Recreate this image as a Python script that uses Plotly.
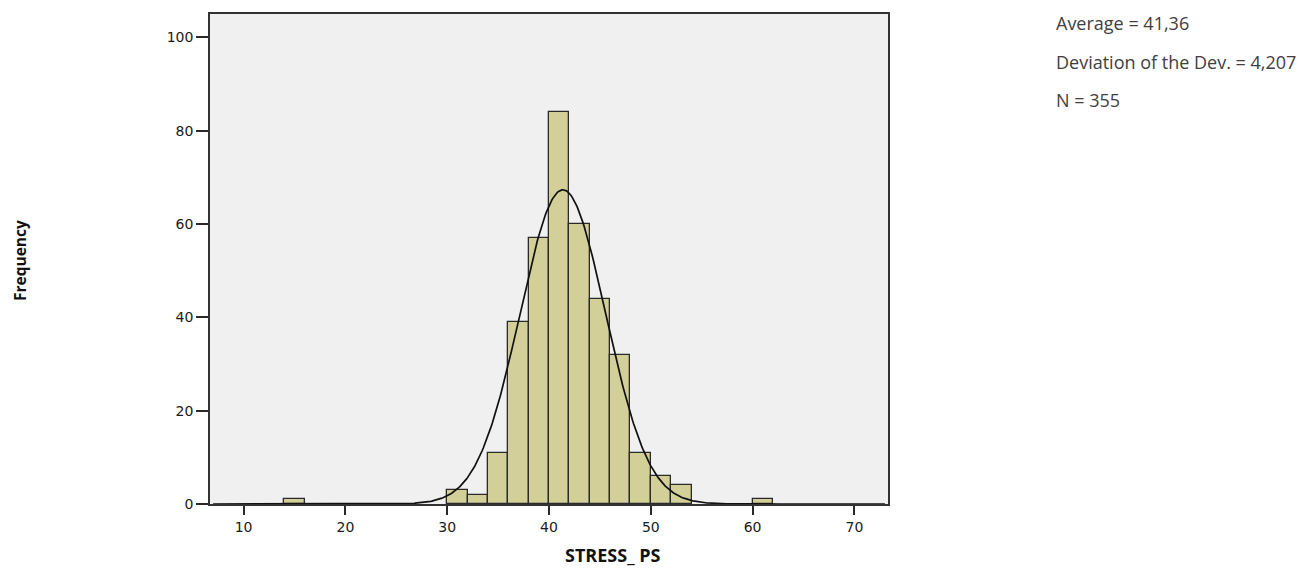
import numpy as np
import plotly.graph_objects as go

# Histogram data (bin width 2)
bin_left = [14, 30, 32, 34, 36, 38, 40, 42, 44, 46, 48, 50, 52, 60]
counts = [1, 3, 2, 11, 39, 57, 84, 60, 44, 32, 11, 6, 4, 1]
bin_width = 2
mean_val = 41.36
sd_val = 4.207
n_val = 355
x_ticks = [10, 20, 30, 40, 50, 60, 70]
y_ticks = [0, 20, 40, 60, 80, 100]
stats_lines = ["Average = 41,36", "Deviation of the Dev. = 4,207", "N = 355"]

centers = [b + bin_width / 2 for b in bin_left]

xs = np.linspace(7, 73, 600)
ys = n_val * bin_width * np.exp(-0.5 * ((xs - mean_val) / sd_val) ** 2) / (sd_val * np.sqrt(2 * np.pi))

# page geometry (the page body has an 8px margin)
PX0, PY0, PW, PH = 210, 12, 678, 492

def px(xp):
    return (xp - PX0) / PW

def py(yp):
    return (PY0 + PH - yp) / PH

fig = go.Figure()
fig.add_trace(go.Bar(
    x=centers, y=counts, width=[bin_width] * len(centers),
    marker=dict(color="#D3CF98", line=dict(color="#2A2A2A", width=1.3)),
    hoverinfo="x+y", showlegend=False,
))
fig.add_trace(go.Scatter(
    x=xs, y=ys, mode="lines", line=dict(color="#111111", width=1.7),
    showlegend=False, hoverinfo="skip",
))

axis_font = dict(family="DejaVu Sans, Verdana, sans-serif", size=14, color="#1A1A1A")
fig.update_layout(
    width=1303, height=560,
    margin=dict(l=202, r=423, t=4, b=64),
    paper_bgcolor="white", plot_bgcolor="#F0F0F0",
    bargap=0,
    xaxis=dict(range=[6.7, 73.3], tickvals=x_ticks, ticks="outside", ticklen=9,
               tickcolor="#2A2A2A", tickwidth=1.6, showline=True, linecolor="#333333",
               linewidth=1.5, mirror=True, showgrid=False, zeroline=False,
               tickfont=axis_font),
    yaxis=dict(range=[0, 105], tickvals=y_ticks, ticks="outside", ticklen=12,
               tickcolor="#2A2A2A", tickwidth=1.6, showline=True, linecolor="#333333",
               linewidth=1.5, mirror=True, showgrid=False, zeroline=False,
               tickfont=axis_font),
)

text_font = dict(family="Open Sans, sans-serif", size=18, color="#404040")
stat_y = [21, 60, 98]
for line, yy in zip(stats_lines, stat_y):
    fig.add_annotation(xref="paper", yref="paper", x=px(1054), y=py(yy),
                       text=line, showarrow=False, xanchor="left", yanchor="middle",
                       font=text_font)

fig.add_annotation(xref="paper", yref="paper", x=px(20), y=py(260),
                   text="<b>Frequency</b>", textangle=-90, showarrow=False,
                   xanchor="center", yanchor="middle",
                   font=dict(family="Open Sans, sans-serif", size=15.5, color="#111111"))
fig.add_annotation(xref="paper", yref="paper", x=px(613), y=py(555.5),
                   text="<b>STRESS_ PS</b>", showarrow=False,
                   xanchor="center", yanchor="middle",
                   font=dict(family="Open Sans, sans-serif", size=18, color="#111111"))

fig.write_html("out.html")
